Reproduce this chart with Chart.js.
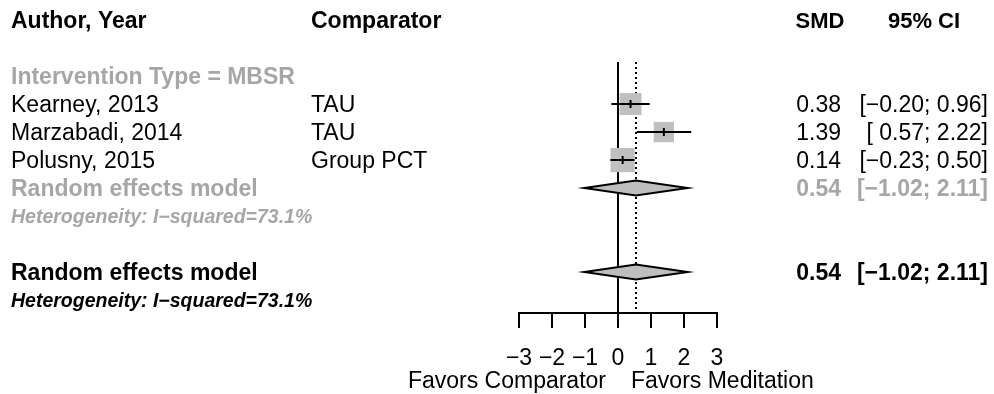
<!DOCTYPE html>
<html>
<head>
<meta charset="utf-8">
<title>Forest plot</title>
<script src="https://cdn.jsdelivr.net/npm/chart.js@4.4.0/dist/chart.umd.min.js"></script>
<style>
  html, body { margin: 0; padding: 0; background: #fff; }
  #wrap { width: 994px; height: 394px; position: relative; }
</style>
</head>
<body>
<div id="wrap"><canvas id="forestChart"></canvas></div>
<script>
// Study level data
const studyLabels = ['Kearney, 2013', 'Marzabadi, 2014', 'Polusny, 2015'];
const comparators = ['TAU', 'TAU', 'Group PCT'];
const smdValues = [0.38, 1.39, 0.14];
const ciLower = [-0.20, 0.57, -0.23];
const ciUpper = [0.96, 2.22, 0.50];
const studyWeights = [32.5, 27.8, 39.7];

// Random effects results: subgroup, then overall
const pooledSmd = [0.54, 0.54];
const pooledLower = [-1.02, -1.02];
const pooledUpper = [2.11, 2.11];
const i2Values = [73.1, 73.1];

const subgroupLabel = 'Intervention Type = MBSR';
const xTicks = [-3, -2, -1, 0, 1, 2, 3];
const sideLabels = ['Favors Comparator', 'Favors Meditation'];

document.addEventListener("DOMContentLoaded", function() {

    const FONT = '"Liberation Sans", Arial, sans-serif';
    const GREY = '#a6a6a6';

    // rows (0 = header) -- studies start at row 3
    const ROW_SUBGROUP = 2, ROW_FIRST = 3, ROW_POOLED = [6, 9];

    function fmt(v) {
        return (v < 0 ? '\u2212' : '') + Math.abs(v).toFixed(2);
    }
    function fmtCI(lo, hi) {
        return '[' + (lo < 0 ? '' : ' ') + fmt(lo) + '; ' + fmt(hi) + ']';
    }
    function text(ctx, str, x, y, align, size, weight, color) {
        ctx.font = weight + ' ' + size + 'px ' + FONT;
        ctx.fillStyle = color;
        ctx.textAlign = align;
        ctx.textBaseline = 'alphabetic';
        ctx.fillText(str, x, y + size * 0.36);
    }

    const forestPlugin = {
        id: 'forest',
        beforeDatasetsDraw(chart) {
            const { ctx, chartArea, scales: { x } } = chart;
            ctx.save();
            ctx.strokeStyle = '#000';
            ctx.lineWidth = 2;
            const x0 = Math.round(x.getPixelForValue(0));
            ctx.beginPath();
            ctx.moveTo(x0, chartArea.top);
            ctx.lineTo(x0, chartArea.bottom);
            ctx.stroke();
            // dotted line at pooled estimate
            const xp = Math.round(x.getPixelForValue(pooledSmd[1]));
            ctx.setLineDash([2, 3]);
            ctx.beginPath();
            ctx.moveTo(xp, chartArea.top);
            ctx.lineTo(xp, chartArea.bottom - 2);
            ctx.stroke();
            ctx.restore();
        },
        afterDatasetsDraw(chart) {
            const { ctx, scales: { x, y } } = chart;
            ctx.save();
            ctx.strokeStyle = '#000';
            ctx.lineWidth = 2;
            // confidence intervals
            smdValues.forEach((v, i) => {
                const py = Math.round(y.getPixelForValue(ROW_FIRST + i));
                const px = x.getPixelForValue(v);
                ctx.beginPath();
                ctx.moveTo(x.getPixelForValue(ciLower[i]), py);
                ctx.lineTo(x.getPixelForValue(ciUpper[i]), py);
                ctx.moveTo(px, py - 4);
                ctx.lineTo(px, py + 4);
                ctx.stroke();
            });
            // diamonds
            pooledSmd.forEach((v, i) => {
                const py = y.getPixelForValue(ROW_POOLED[i]);
                ctx.beginPath();
                ctx.moveTo(x.getPixelForValue(pooledLower[i]), py);
                ctx.lineTo(x.getPixelForValue(v), py - 7.5);
                ctx.lineTo(x.getPixelForValue(pooledUpper[i]), py);
                ctx.lineTo(x.getPixelForValue(v), py + 7.5);
                ctx.closePath();
                ctx.fillStyle = '#bebebe';
                ctx.fill();
                ctx.stroke();
            });
            ctx.restore();
        },
        afterDraw(chart) {
            const { ctx, scales: { x, y } } = chart;
            const row = r => y.getPixelForValue(r);
            ctx.save();
            // header
            text(ctx, 'Author, Year', 11, row(0), 'left', 23, 'bold', '#000');
            text(ctx, 'Comparator', 311, row(0), 'left', 23, 'bold', '#000');
            text(ctx, 'SMD', 820, row(0), 'center', 22, 'bold', '#000');
            text(ctx, '95% CI', 924, row(0), 'center', 22, 'bold', '#000');

            text(ctx, subgroupLabel, 11, row(ROW_SUBGROUP), 'left', 23, 'bold', GREY);
            studyLabels.forEach((s, i) => {
                const py = row(ROW_FIRST + i);
                text(ctx, s, 11, py, 'left', 23, 'normal', '#000');
                text(ctx, comparators[i], 311, py, 'left', 23, 'normal', '#000');
                text(ctx, fmt(smdValues[i]), 841, py, 'right', 23, 'normal', '#000');
                text(ctx, fmtCI(ciLower[i], ciUpper[i]), 988, py, 'right', 23, 'normal', '#000');
            });
            pooledSmd.forEach((v, i) => {
                const py = row(ROW_POOLED[i]);
                const col = i === 0 ? GREY : '#000';
                text(ctx, 'Random effects model', 11, py, 'left', 23, 'bold', col);
                text(ctx, fmt(v), 841, py, 'right', 23, 'bold', col);
                text(ctx, fmtCI(pooledLower[i], pooledUpper[i]), 988, py, 'right', 23, 'bold', col);
                text(ctx, 'Heterogeneity: I\u2212squared=' + i2Values[i].toFixed(1) + '%', 11, py + 28,
                     'left', 19.5, 'italic bold', col);
            });
            // side labels under the axis
            const x0 = x.getPixelForValue(0);
            text(ctx, sideLabels[0], x0 - 12, 380, 'right', 23, 'normal', '#000');
            text(ctx, sideLabels[1], x0 + 13, 380, 'left', 23, 'normal', '#000');
            ctx.restore();
        }
    };

    const forestCtx = document.getElementById('forestChart');
    new Chart(forestCtx, {
        type: 'scatter',
        data: {
            datasets: [{
                label: 'Studies',
                data: smdValues.map((v, i) => ({ x: v, y: ROW_FIRST + i })),
                pointStyle: 'rect',
                pointRadius: studyWeights.map(w => 3.85 * Math.sqrt(w) / Math.SQRT2),
                pointHoverRadius: studyWeights.map(w => 3.85 * Math.sqrt(w) / Math.SQRT2),
                backgroundColor: '#bfbfbf',
                borderWidth: 0
            }]
        },
        options: {
            responsive: true,
            maintainAspectRatio: false,
            animation: false,
            events: [],
            layout: { padding: { left: 519, right: 277, top: 62, bottom: 0 } },
            plugins: {
                legend: { display: false },
                tooltip: { enabled: false }
            },
            scales: {
                x: {
                    type: 'linear',
                    min: xTicks[0],
                    max: xTicks[xTicks.length - 1],
                    afterBuildTicks: axis => { axis.ticks = xTicks.map(v => ({ value: v })); },
                    afterFit: axis => { axis.height = 81; },
                    grid: { drawOnChartArea: false, drawTicks: true, tickLength: 15, color: '#000', lineWidth: 2 },
                    border: { display: true, color: '#000', width: 2 },
                    ticks: {
                        color: '#000',
                        padding: 17,
                        maxRotation: 0,
                        font: { family: FONT, size: 23 },
                        callback: v => String(v).replace('-', '\u2212')
                    }
                },
                y: {
                    type: 'linear',
                    display: false,
                    reverse: true,
                    min: 1.5,
                    max: 10.46
                }
            }
        },
        plugins: [forestPlugin]
    });
});
</script>
</body>
</html>
